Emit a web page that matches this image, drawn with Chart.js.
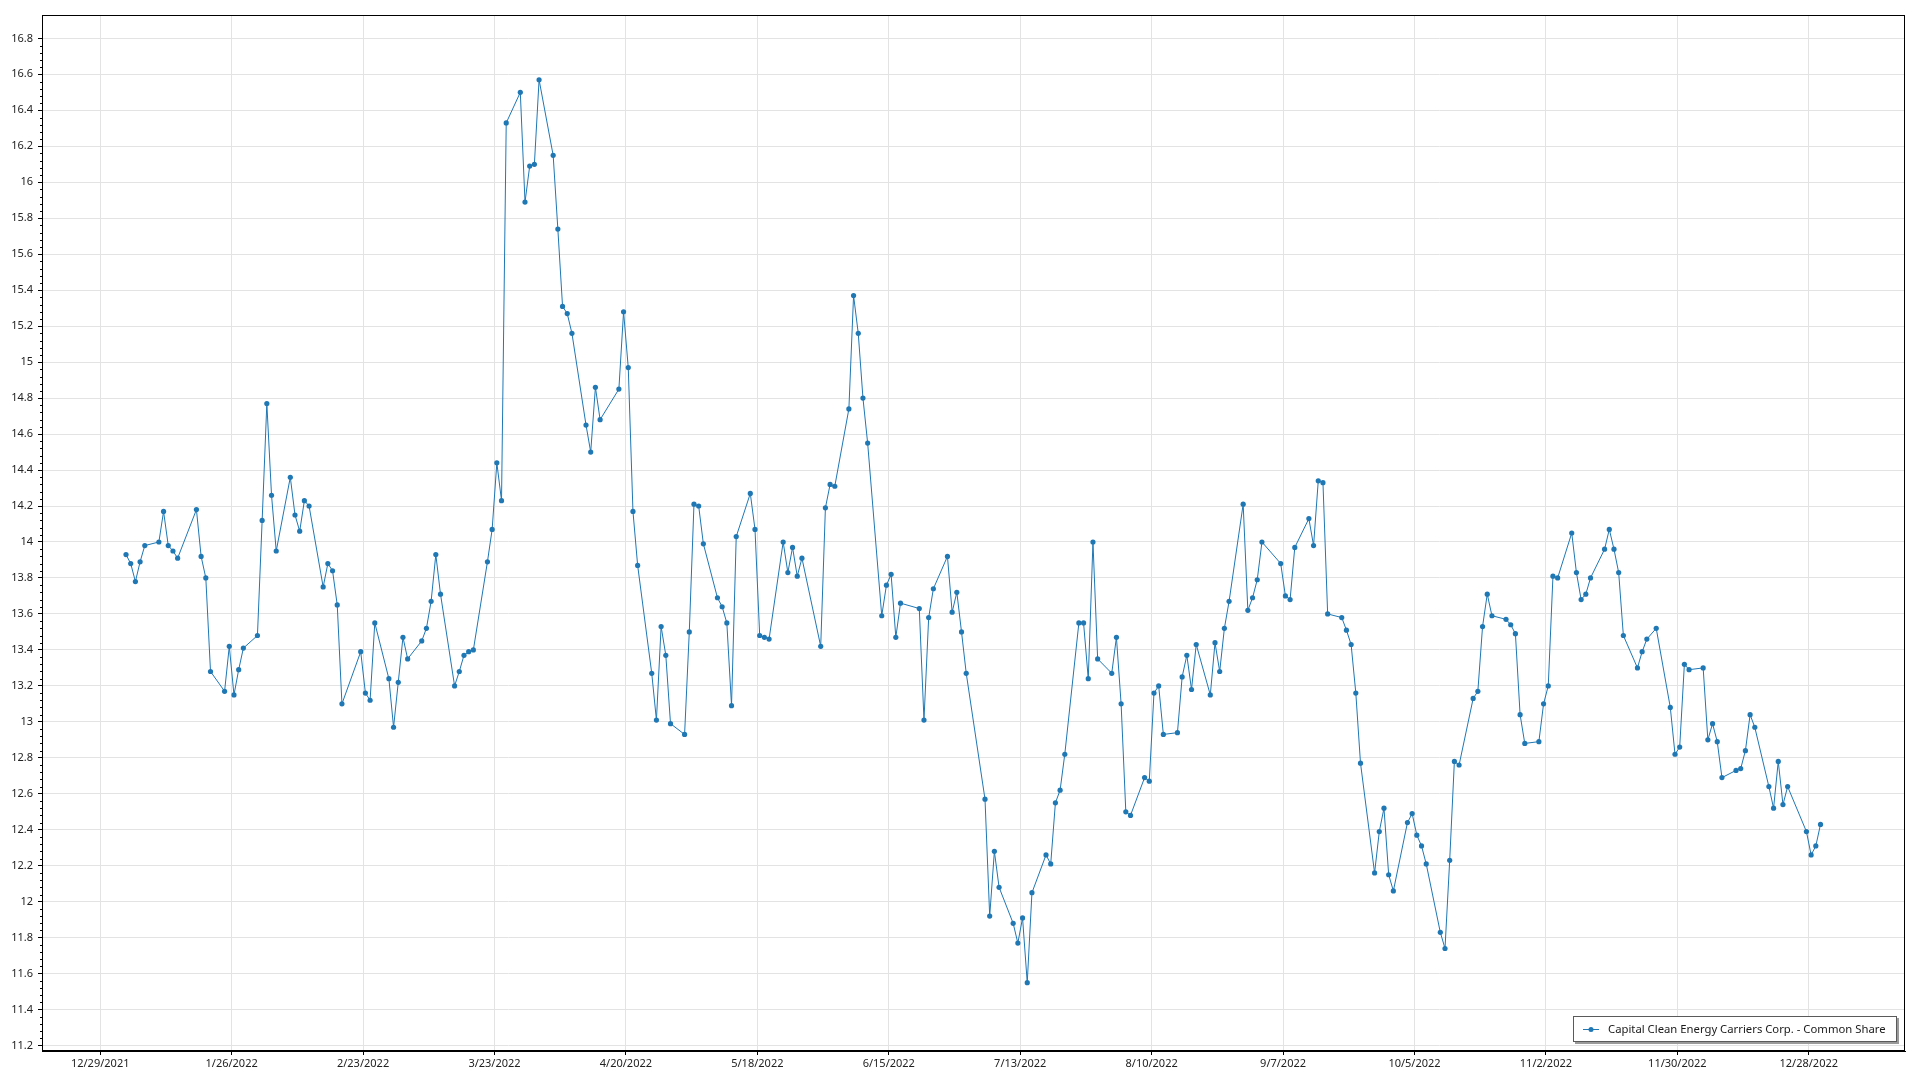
<!DOCTYPE html>
<html>
<head>
<meta charset="utf-8">
<title>Capital Clean Energy Carriers Corp. - Common Share</title>
<script src="https://cdn.jsdelivr.net/npm/chart.js@4.4.1/dist/chart.umd.min.js"></script>
<style>
    html, body { margin: 0; padding: 0; background: #fff; }
    #wrap { width: 1920px; height: 1080px; position: relative; }
</style>
</head>
<body>
<div id="wrap"><canvas id="price-chart"></canvas></div>
<script>
// series name shown in the legend
const seriesName = 'Capital Clean Energy Carriers Corp. - Common Share';

// NYSE closed days in 2022 (weekends are skipped too)
const holidays = ['2022-01-17', '2022-02-21', '2022-04-15', '2022-05-30', '2022-06-20',
    '2022-07-04', '2022-09-05', '2022-11-24', '2022-12-26'];

// closing prices, one array per month, in trading-day order
const closeJan = [13.93, 13.88, 13.78, 13.89, 13.98, 14.00, 14.17, 13.98, 13.95, 13.91,
    14.18, 13.92, 13.80, 13.28, 13.17, 13.42, 13.15, 13.29, 13.41, 13.48];
const closeFeb = [14.12, 14.77, 14.26, 13.95, 14.36, 14.15, 14.06, 14.23, 14.20, 13.75,
    13.88, 13.84, 13.65, 13.10, 13.39, 13.16, 13.12, 13.55, 13.24];
const closeMar = [12.97, 13.22, 13.47, 13.35, 13.45, 13.52, 13.67, 13.93, 13.71, 13.20,
    13.28, 13.37, 13.39, 13.40, 13.89, 14.07, 14.44, 14.23, 16.33, 16.50, 15.89, 16.09, 16.10];
const closeApr = [16.57, 16.15, 15.74, 15.31, 15.27, 15.16, 14.65, 14.50, 14.86, 14.68,
    14.85, 15.28, 14.97, 14.17, 13.87, 13.27, 13.01, 13.53, 13.37, 12.99];
const closeMay = [12.93, 13.50, 14.21, 14.20, 13.99, 13.69, 13.64, 13.55, 13.09, 14.03,
    14.27, 14.07, 13.48, 13.47, 13.46, 14.00, 13.83, 13.97, 13.81, 13.91, 13.42];
const closeJun = [14.19, 14.32, 14.31, 14.74, 15.37, 15.16, 14.80, 14.55, 13.59, 13.76,
    13.82, 13.47, 13.66, 13.63, 13.01, 13.58, 13.74, 13.92, 13.61, 13.72, 13.50];
const closeJul = [13.27, 12.57, 11.92, 12.28, 12.08, 11.88, 11.77, 11.91, 11.55, 12.05,
    12.26, 12.21, 12.55, 12.62, 12.82, 13.55, 13.55, 13.24, 14.00, 13.35];
const closeAug = [13.27, 13.47, 13.10, 12.50, 12.48, 12.69, 12.67, 13.16, 13.20, 12.93,
    12.94, 13.25, 13.37, 13.18, 13.43, 13.15, 13.44, 13.28, 13.52, 13.67, 14.21, 13.62, 13.69];
const closeSep = [13.79, 14.00, 13.88, 13.70, 13.68, 13.97, 14.13, 13.98, 14.34, 14.33,
    13.60, 13.58, 13.51, 13.43, 13.16, 12.77, 12.16, 12.39, 12.52, 12.15, 12.06];
const closeOct = [12.44, 12.49, 12.37, 12.31, 12.21, 11.83, 11.74, 12.23, 12.78, 12.76,
    13.13, 13.17, 13.53, 13.71, 13.59, 13.57, 13.54, 13.49, 13.04, 12.88, 12.89];
const closeNov = [13.10, 13.20, 13.81, 13.80, 14.05, 13.83, 13.68, 13.71, 13.80, 13.96,
    14.07, 13.96, 13.83, 13.48, 13.30, 13.39, 13.46, 13.52, 13.08, 12.82, 12.86];
const closeDec = [13.32, 13.29, 13.30, 12.90, 12.99, 12.89, 12.69, 12.73, 12.74, 12.84,
    13.04, 12.97, 12.64, 12.52, 12.78, 12.54, 12.64, 12.39, 12.26, 12.31, 12.43];

// date axis labels
const xTickLabels = ['12/29/2021', '1/26/2022', '2/23/2022', '3/23/2022', '4/20/2022',
    '5/18/2022', '6/15/2022', '7/13/2022', '8/10/2022', '9/7/2022', '10/5/2022',
    '11/2/2022', '11/30/2022', '12/28/2022'];

// value axis labels
const yTickValues = [11.2, 11.4, 11.6, 11.8, 12, 12.2, 12.4, 12.6, 12.8, 13, 13.2, 13.4,
    13.6, 13.8, 14, 14.2, 14.4, 14.6, 14.8, 15, 15.2, 15.4, 15.6, 15.8, 16, 16.2, 16.4,
    16.6, 16.8];

const FONT = '"Segoe UI", "Noto Sans", sans-serif';
const DAY = 86400000;
const ORIGIN = Date.UTC(2021, 11, 29);

// days from the first axis label, so the axis can stay linear
function toDays(ms) {
    return (ms - ORIGIN) / DAY;
}

function labelToDays(label) {
    const [m, d, y] = label.split('/').map(Number);
    return toDays(Date.UTC(y, m - 1, d));
}

function tradingDays(year) {
    const out = [];
    const d = new Date(Date.UTC(year, 0, 1));
    while (d.getUTCFullYear() === year) {
        const wd = d.getUTCDay();
        const iso = d.toISOString().slice(0, 10);
        if (wd !== 0 && wd !== 6 && !holidays.includes(iso)) out.push(d.getTime());
        d.setUTCDate(d.getUTCDate() + 1);
    }
    return out;
}

const closes = [].concat(closeJan, closeFeb, closeMar, closeApr, closeMay, closeJun,
    closeJul, closeAug, closeSep, closeOct, closeNov, closeDec);
const days = tradingDays(2022);
if (days.length !== closes.length) console.warn('date/price count mismatch', days.length, closes.length);

// points sit at mid-day
const points = closes.map((v, i) => ({ x: toDays(days[i]) + 0.5, y: v }));

// black frame round the plot + small minor ticks on the value axis
const frame = {
    id: 'frame',
    afterDraw(chart) {
        const { ctx, chartArea: a } = chart;
        const ys = chart.scales.y;
        ctx.save();
        ctx.strokeStyle = '#000';
        ctx.lineWidth = 1;
        ctx.strokeRect(Math.round(a.left) + 0.5, Math.round(a.top) + 0.5,
            Math.round(a.right - a.left) - 1, Math.round(a.bottom - a.top) - 1);
        ctx.beginPath();
        for (let k = 0; k < yTickValues.length - 1; k++) {
            for (let j = 1; j < 5; j++) {
                const v = yTickValues[k] + (yTickValues[k + 1] - yTickValues[k]) * j / 5;
                const py = Math.round(ys.getPixelForValue(v)) + 0.5;
                ctx.moveTo(a.left - 2, py);
                ctx.lineTo(a.left, py);
            }
        }
        ctx.stroke();
        ctx.restore();
    }
};

// boxed legend in the lower right corner of the plot
const legendBox = {
    id: 'legendBox',
    afterDraw(chart) {
        const { ctx, chartArea: a } = chart;
        ctx.save();
        ctx.font = '11.3px ' + FONT;
        const tw = ctx.measureText(seriesName).width;
        const w = Math.round(tw + 46), h = 26;
        const x = Math.round(a.right) - 8 - w, y = Math.round(a.bottom) - 9 - h;
        ctx.fillStyle = '#9a9a9a';
        ctx.fillRect(x + 2, y + 2, w, h);
        ctx.fillStyle = '#fff';
        ctx.fillRect(x, y, w, h);
        ctx.strokeStyle = '#5a5a5a';
        ctx.lineWidth = 1;
        ctx.strokeRect(x + 0.5, y + 0.5, w - 1, h - 1);
        const cy = y + h / 2;
        ctx.strokeStyle = '#1f77b4';
        ctx.beginPath();
        ctx.moveTo(x + 10, cy + 0.5);
        ctx.lineTo(x + 26, cy + 0.5);
        ctx.stroke();
        ctx.fillStyle = '#1f77b4';
        ctx.beginPath();
        ctx.arc(x + 18, cy + 0.5, 2.5, 0, Math.PI * 2);
        ctx.fill();
        ctx.fillStyle = '#1a1a1a';
        ctx.textBaseline = 'middle';
        ctx.fillText(seriesName, x + 35, cy + 1);
        ctx.restore();
    }
};

new Chart(document.getElementById('price-chart'), {
    type: 'line',
    data: {
        datasets: [{
            label: seriesName,
            data: points,
            borderColor: '#1f77b4',
            backgroundColor: '#1f77b4',
            borderWidth: 1,
            pointRadius: 2.6,
            pointBorderWidth: 0,
            pointBackgroundColor: '#1f77b4',
            tension: 0
        }]
    },
    options: {
        responsive: true,
        maintainAspectRatio: false,
        animation: false,
        layout: { padding: { top: 15, right: 15, left: 0, bottom: 0 } },
        plugins: {
            legend: { display: false },
            tooltip: { enabled: false }
        },
        scales: {
            x: {
                type: 'linear',
                min: -12.4,
                max: 384.5,
                afterFit: s => { s.height = 29; },
                afterBuildTicks: s => {
                    s.ticks = xTickLabels.map(l => ({ value: labelToDays(l) }));
                },
                grid: { color: '#e3e3e3', tickColor: '#000', tickLength: 4 },
                border: { color: '#000', width: 1 },
                ticks: {
                    autoSkip: false,
                    maxRotation: 0,
                    padding: 2,
                    color: '#222',
                    font: { family: FONT, size: 11 },
                    callback: (v, i) => xTickLabels[i]
                }
            },
            y: {
                min: 11.17,
                max: 16.93,
                afterFit: s => { s.width = 42; },
                afterBuildTicks: s => {
                    s.ticks = yTickValues.map(v => ({ value: v }));
                },
                grid: { color: '#e3e3e3', tickColor: '#000', tickLength: 4 },
                border: { color: '#000', width: 1 },
                ticks: {
                    autoSkip: false,
                    padding: 5,
                    color: '#222',
                    font: { family: FONT, size: 11 },
                    callback: v => String(+v.toFixed(1))
                }
            }
        }
    },
    plugins: [frame, legendBox]
});
</script>
</body>
</html>
